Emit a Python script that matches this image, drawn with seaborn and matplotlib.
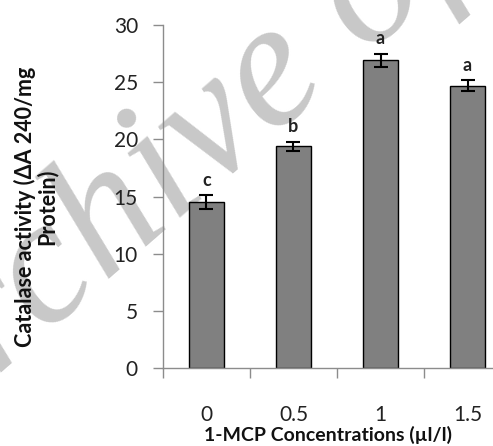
import numpy as np
import pandas as pd
import matplotlib
matplotlib.use("Agg")
import matplotlib.pyplot as plt
import seaborn as sns

# data
concentrations = ["0", "0.5", "1", "1.5"]
catalase = [14.5, 19.4, 26.9, 24.7]
errors = [0.6, 0.4, 0.6, 0.45]
letters = ["c", "b", "a", "a"]

sns.set_style("white")
plt.rcParams['font.family'] = ['Lato', 'DejaVu Sans']

df = pd.DataFrame({"conc": concentrations, "activity": catalase})

fig = plt.figure(figsize=(4.93, 4.46), dpi=100)

# watermark on its own background axes, behind everything
bg = fig.add_axes([0, 0, 1, 1], zorder=-1)
bg.axis("off")
bg.text(-0.17, -0.02, "Archive of SID", rotation=41, rotation_mode="anchor",
        ha="left", va="baseline", fontsize=130, style="italic",
        family="Liberation Serif", color="#c8c8c8", transform=bg.transAxes)

ax = fig.add_axes([0.3306, 0.1749, 0.6694, 0.769], zorder=1)
ax.set_facecolor("none")

sns.barplot(data=df, x="conc", y="activity", color="#808080", saturation=1,
            edgecolor="black", linewidth=1, width=0.4, ax=ax, errorbar=None)
ax.errorbar(range(len(catalase)), catalase, yerr=errors, fmt="none",
            ecolor="black", elinewidth=1.5, capsize=5, capthick=1.5)

for i, (v, e, l) in enumerate(zip(catalase, errors, letters)):
    ax.text(i, v + e + 0.6, l, ha="center", va="bottom", fontsize=13,
            fontweight="bold", color="#222222")

ax.set_ylim(0, 30)
ax.set_xlim(-0.5, 3.293)
ax.set_yticks(range(0, 31, 5))
ax.set_xticks(range(len(concentrations)))
ax.set_xticklabels(concentrations)
ax.set_xticks([-0.5, 0.5, 1.5, 2.5], minor=True)

for s in ["top", "right"]:
    ax.spines[s].set_visible(False)
for s in ["left", "bottom"]:
    ax.spines[s].set_color("#8c8c8c")
    ax.spines[s].set_linewidth(1)

ax.tick_params(axis="y", which="major", direction="out", length=7, width=1,
               color="#8c8c8c", labelsize=15, pad=11, labelcolor="#222222", left=True)
ax.tick_params(axis="x", which="major", length=0, labelsize=15, pad=27,
               labelcolor="#222222")
ax.tick_params(axis="x", which="minor", direction="out", length=7, width=1,
               color="#8c8c8c", bottom=True)

ax.set_xlabel("1-MCP Concentrations (µl/l)", fontsize=14, fontweight="bold",
              labelpad=0, color="#111111")
ax.set_ylabel("Catalase activity (ΔA 240/mg\nProtein)", fontsize=15.5,
              fontweight="bold", color="#111111", linespacing=1.0, va="center")
ax.yaxis.set_label_coords(-0.385, 0.47)

fig.savefig("out.png", dpi=100)
